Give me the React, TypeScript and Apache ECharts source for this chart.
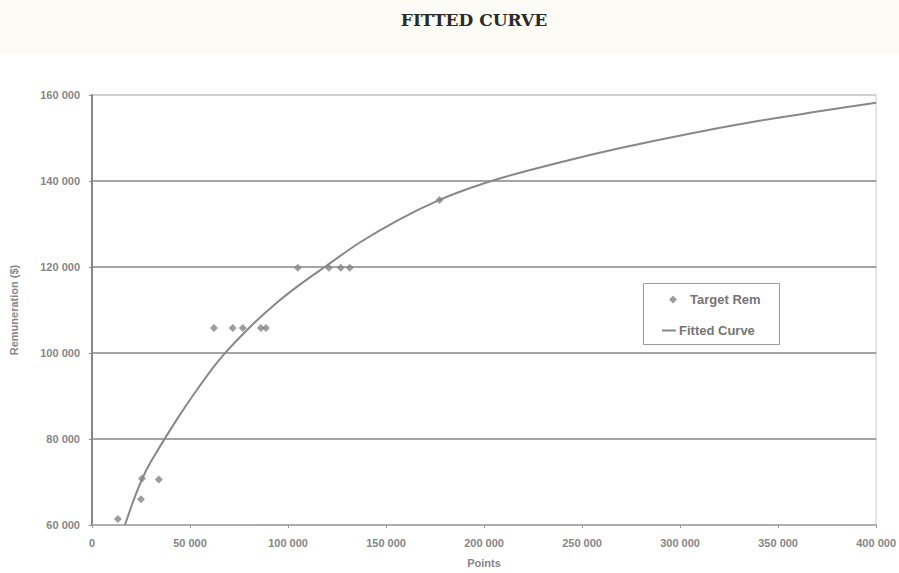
import React, { useEffect, useRef } from "react";
import * as echarts from "echarts";

const chartTitle = "FITTED CURVE";
const xAxisName = "Points";
const yAxisName = "Remuneration ($)";
const scatterName = "Target Rem";
const curveName = "Fitted Curve";

// Target remuneration points [points, remuneration]
const targetX = [13200, 25000, 25500, 34100, 62200, 71800, 76900, 86100, 88700, 105000, 120800, 126900, 131500, 177300];
const targetY = [61400, 66000, 70800, 70600, 105800, 105800, 105800, 105800, 105800, 119800, 119800, 119800, 119800, 135600];

// Fitted curve
const curveX = [16800, 21900, 27000, 32100, 37700, 44800, 53000, 61100, 68300, 80500, 93200, 106000, 118700, 136600, 156900, 177300, 192600, 207900, 238500, 269000, 304700, 340400, 371000, 400000];
const curveY = [60000, 66600, 72100, 76300, 80500, 85600, 91100, 96200, 100200, 106000, 111300, 115900, 120000, 125700, 131100, 135600, 138300, 140600, 144300, 147600, 151000, 154000, 156200, 158200];

const fmt = (v: number) => {
  const s = String(Math.round(v));
  return s.replace(/\B(?=(\d{3})+(?!\d))/g, " ");
};

export default function App() {
  const ref = useRef<HTMLDivElement>(null);
  useEffect(() => {
    if (!ref.current) return;
    const chart = echarts.init(ref.current, null, { renderer: "svg" });
    const gray = "#868686";
    const labelFont = { color: "#868686", fontSize: 11, fontWeight: "bold" as const, fontFamily: "Liberation Sans" };
    const legendText = { color: "#757575", fontSize: 13, fontWeight: "bold" as const, fontFamily: "Liberation Sans" };
    chart.setOption({
      animation: false,
      backgroundColor: "#ffffff",
      graphic: [
        { type: "rect", left: 0, top: 0, shape: { width: 899, height: 54 }, style: { fill: "#fdfbf5" }, silent: true, z: -10 },
        {
          type: "text",
          x: 474,
          y: 20,
          style: {
            text: chartTitle,
            font: "bold 17px 'DejaVu Serif'",
            fill: "#2a2a2a",
            textAlign: "center",
            textVerticalAlign: "middle",
          },
        },
        {
          type: "rect",
          shape: { x: 643.5, y: 283.5, width: 136, height: 61 },
          style: { fill: "#ffffff", stroke: "#9a9a9a", lineWidth: 1 },
          z: 20,
        },
      ],
      grid: { left: 92, right: 22, top: 95, bottom: 43, show: true, borderColor: "#cccccc", borderWidth: 1 },
      xAxis: {
        type: "value",
        min: 0,
        max: 400000,
        interval: 50000,
        name: xAxisName,
        nameLocation: "middle",
        nameGap: 32,
        nameTextStyle: { ...labelFont },
        axisLine: { show: true, lineStyle: { color: "#aaaaaa", width: 1.5 } },
        axisTick: { show: true, length: 3, lineStyle: { color: "#999" } },
        axisLabel: { ...labelFont, margin: 12, formatter: fmt },
        splitLine: { show: false },
      },
      yAxis: {
        type: "value",
        min: 60000,
        max: 160000,
        interval: 20000,
        name: yAxisName,
        nameLocation: "middle",
        nameGap: 73,
        nameTextStyle: { ...labelFont },
        axisLine: { show: true, lineStyle: { color: gray, width: 2 } },
        axisTick: { show: true, length: 3, lineStyle: { color: gray } },
        axisLabel: { ...labelFont, margin: 12, formatter: fmt },
        splitLine: {
          show: true,
          lineStyle: { color: ["#aaaaaa", gray, gray, gray, gray, "#c8c8c8"], width: 1.6 },
        },
      },
      legend: [
        {
          data: [{ name: scatterName, icon: "diamond" }],
          left: 669,
          top: 293,
          padding: 0,
          itemWidth: 8,
          itemHeight: 8,
          z: 30,
          textStyle: { ...legendText, padding: [0, 0, 0, 8] },
        },
        {
          data: [{ name: curveName, icon: "rect" }],
          left: 662,
          top: 324,
          padding: 0,
          itemWidth: 14,
          itemHeight: 2,
          z: 30,
          textStyle: { ...legendText, padding: [0, 0, 0, -2] },
        },
      ],
      series: [
        {
          name: curveName,
          type: "line",
          data: curveX.map((x, i) => [x, curveY[i]]),
          smooth: 0.3,
          showSymbol: false,
          symbol: "none",
          lineStyle: { color: "#888888", width: 2 },
          itemStyle: { color: "#888888" },
          z: 3,
        },
        {
          name: scatterName,
          type: "scatter",
          data: targetX.map((x, i) => [x, targetY[i]]),
          symbol: "diamond",
          symbolSize: 8,
          itemStyle: { color: "#858585" },
          z: 4,
        },
      ],
    });
    return () => chart.dispose();
  }, []);
  return <div ref={ref} style={{ position: "absolute", left: 0, top: 0, width: 899, height: 573 }} />;
}
